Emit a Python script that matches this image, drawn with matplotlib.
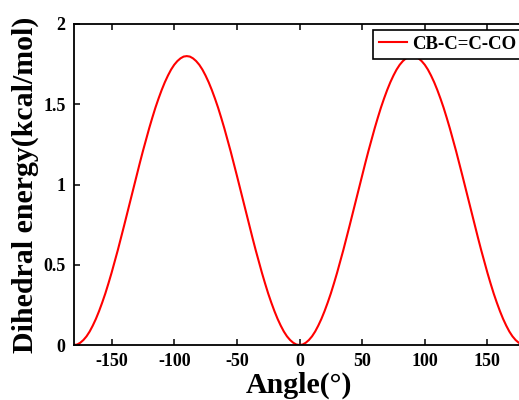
import numpy as np
import matplotlib
matplotlib.use("Agg")
import matplotlib.pyplot as plt

# Dihedral scan for the CB-C=C-CO torsion, sampled every 2.5 degrees
angles = np.arange(-180, 180.1, 2.5)
energy = [
    # -180 .. -90
    0.000, 0.003, 0.014, 0.031, 0.054, 0.084, 0.121, 0.163, 0.211, 0.264,
    0.321, 0.384, 0.450, 0.520, 0.592, 0.667, 0.744, 0.822, 0.900, 0.978,
    1.056, 1.133, 1.208, 1.280, 1.350, 1.416, 1.479, 1.536, 1.589, 1.637,
    1.679, 1.716, 1.746, 1.769, 1.786, 1.797, 1.800,
    # -87.5 .. 0
    1.797, 1.786, 1.769, 1.746, 1.716, 1.679, 1.637, 1.589, 1.536, 1.479,
    1.416, 1.350, 1.280, 1.208, 1.133, 1.056, 0.978, 0.900, 0.822, 0.744,
    0.667, 0.592, 0.520, 0.450, 0.384, 0.321, 0.264, 0.211, 0.163, 0.121,
    0.084, 0.054, 0.031, 0.014, 0.003, 0.000,
    # 2.5 .. 90
    0.003, 0.014, 0.031, 0.054, 0.084, 0.121, 0.163, 0.211, 0.264, 0.321,
    0.384, 0.450, 0.520, 0.592, 0.667, 0.744, 0.822, 0.900, 0.978, 1.056,
    1.133, 1.208, 1.280, 1.350, 1.416, 1.479, 1.536, 1.589, 1.637, 1.679,
    1.716, 1.746, 1.769, 1.786, 1.797, 1.800,
    # 92.5 .. 180
    1.797, 1.786, 1.769, 1.746, 1.716, 1.679, 1.637, 1.589, 1.536, 1.479,
    1.416, 1.350, 1.280, 1.208, 1.133, 1.056, 0.978, 0.900, 0.822, 0.744,
    0.667, 0.592, 0.520, 0.450, 0.384, 0.321, 0.264, 0.211, 0.163, 0.121,
    0.084, 0.054, 0.031, 0.014, 0.003, 0.000,
]
series_label = "CB-C=C-CO"
x_ticks = [-150, -100, -50, 0, 50, 100, 150]
y_ticks = [0, 0.5, 1, 1.5, 2]
y_tick_labels = ["0", "0.5", "1", "1.5", "2"]

plt.rcParams["font.family"] = ["Liberation Serif", "DejaVu Serif"]
plt.rcParams["font.weight"] = "bold"
plt.rcParams["axes.unicode_minus"] = False

fig = plt.figure(figsize=(5.19, 4.0), dpi=100)
ax = fig.add_axes([74 / 519, 55 / 400, 451 / 519, 321 / 400])

ax.plot(angles, energy, color="#ff0000", lw=1.5, label=series_label)

ax.set_xlim(-180, 180)
ax.set_ylim(0, 2)
ax.set_xticks(x_ticks)
ax.set_yticks(y_ticks)
ax.set_yticklabels(y_tick_labels)

for s in ax.spines.values():
    s.set_linewidth(1.3)
ax.spines["right"].set_visible(False)

ax.tick_params(axis="both", direction="in", length=4, width=1.1,
               labelsize=13, pad=6)
ax.tick_params(axis="x", top=True)
for lab in ax.get_xticklabels() + ax.get_yticklabels():
    lab.set_fontweight("bold")

ax.set_xlabel("Angle(°)", fontsize=21.5, fontweight="bold", labelpad=1)
ax.set_ylabel("Dihedral energy(kcal/mol)", fontsize=21.5, fontweight="bold",
              labelpad=3)

leg = ax.legend(loc="upper left", bbox_to_anchor=(372.5 / 519, 1 - 29.5 / 400),
                bbox_transform=fig.transFigure, borderaxespad=0,
                frameon=True, fancybox=False, framealpha=1,
                prop={"size": 13.5, "weight": "bold"},
                handlelength=1.5, handletextpad=0.3, borderpad=0.32)
leg.get_frame().set_edgecolor("black")
leg.get_frame().set_linewidth(1.2)

fig.savefig("out.png", dpi=100)
